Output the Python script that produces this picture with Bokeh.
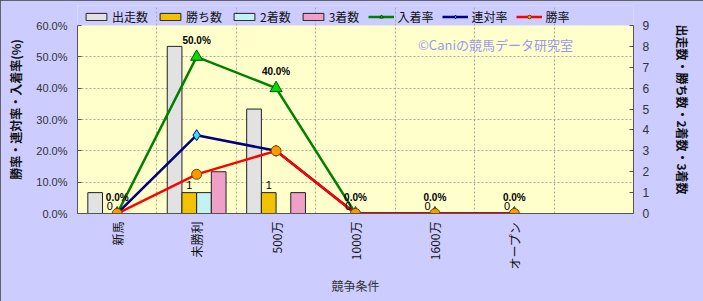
import math
from bokeh.plotting import figure
from bokeh.models import (ColumnDataSource, Range1d, LinearAxis, FixedTicker,
                          PrintfTickFormatter, Legend, LegendItem, Label)
from bokeh.transform import dodge
from bokeh.core.properties import value
from bokeh.embed import file_html
from bokeh.resources import INLINE

# ---- data ----
categories = ["新馬", "未勝利", "500万", "1000万", "1600万", "オープン"]
starts = [1, 8, 5, 0, 0, 0]          # 出走数
wins = [0, 1, 1, 0, 0, 0]            # 勝ち数
seconds = [0, 1, 0, 0, 0, 0]         # 2着数
thirds = [0, 2, 1, 0, 0, 0]          # 3着数
place_rate = [0.0, 50.0, 40.0, 0.0, 0.0, 0.0]   # 入着率
rentai_rate = [0.0, 25.0, 20.0, 0.0, 0.0, 0.0]  # 連対率
win_rate = [0.0, 12.5, 20.0, 0.0, 0.0, 0.0]     # 勝率
n_slots = 7
pct_max = 60
cnt_max = 9
pct_ticks = [0, 10, 20, 30, 40, 50, 60]
cnt_ticks = [0, 1, 2, 3, 4, 5, 6, 7, 8, 9]

JP = "Noto Sans CJK JP"
LAT = "Liberation Sans"

# layout geometry: frame spans y 5..213 px, plot area (0..60%) spans 25..213 px
FRAME_TOP, AREA_TOP, AREA_BOTTOM = 5, 25, 213
stretch = (AREA_BOTTOM - FRAME_TOP) / (AREA_BOTTOM - AREA_TOP)

xs = [i + 0.5 for i in range(len(categories))]
src = ColumnDataSource(dict(
    x=xs, starts=starts, wins=wins, seconds=seconds, thirds=thirds,
    place=place_rate, rentai=rentai_rate, win=win_rate,
    place_lbl=[f"{v:.1f}%" for v in place_rate],
    win_lbl=[str(v) for v in wins],
))

p = figure(width=703, height=301, x_range=Range1d(0, n_slots),
           y_range=Range1d(0, pct_max * stretch),
           output_backend="svg", toolbar_location=None,
           min_border_left=77, min_border_right=70, min_border_top=FRAME_TOP,
           min_border_bottom=301 - AREA_BOTTOM,
           background_fill_color="#ccccff", border_fill_color="#ccccff",
           outline_line_color=None)
p.styles = {"outline": "1px solid #404040", "outline-offset": "-1px"}
p.extra_y_ranges = {"cnt": Range1d(0, cnt_max * stretch)}

# yellow plot area
p.quad(left=0, right=n_slots, bottom=0, top=pct_max, fill_color="#ffffcc",
       line_color=None, level="image")

# grids
p.xgrid.ticker = FixedTicker(ticks=list(range(1, n_slots)))
p.ygrid.ticker = FixedTicker(ticks=pct_ticks[1:-1])
p.xgrid.bounds = (0, pct_max)
for g in (p.xgrid, p.ygrid):
    g.grid_line_color = "#a8a8a0"
    g.grid_line_dash = "2 2"
    g.grid_line_width = 1

# bars
bw = 0.185
bar_specs = [("starts", -0.2775, "#e2e2e2"), ("wins", -0.0925, "#f2c200"),
             ("seconds", 0.0925, "#c4f2f2"), ("thirds", 0.2775, "#f0a0c8")]
bars = []
for field, off, color in bar_specs:
    r = p.vbar(x=dodge("x", off, range=p.x_range), top=field, width=bw, source=src,
               y_range_name="cnt", fill_color=color, line_color="#222222", line_width=1)
    bars.append(r)

# lines
gl = p.line("x", "place", source=src, line_color="#008000", line_width=2.5)
gm = p.scatter("x", "place", source=src, marker="triangle", size=12,
               fill_color="#00dd00", line_color="#005000")
bl = p.line("x", "rentai", source=src, line_color="#000080", line_width=2.5)
bm = p.scatter("x", "rentai", source=src, marker="diamond", size=11,
               fill_color="#33e0f0", line_color="#000080")
rl = p.line("x", "win", source=src, line_color="#ff0000", line_width=2.5)
rm = p.scatter("x", "win", source=src, marker="circle", size=10,
               fill_color="#ff9900", line_color="#704000")

# data labels
p.text(x="x", y="place", text="place_lbl", source=src, text_align="center",
       text_baseline="bottom", y_offset=-11, text_font=value(LAT),
       text_font_size="10px", text_font_style="bold", text_color="black")
p.text(x=dodge("x", -0.0925, range=p.x_range), y="wins", text="win_lbl", source=src,
       y_range_name="cnt", text_align="center", text_baseline="bottom", y_offset=-4,
       text_font=value(LAT), text_font_size="11px", text_color="black")

# axes
ya = p.yaxis[0]
ya.bounds = (0, pct_max)
ya.ticker = FixedTicker(ticks=pct_ticks)
ya.formatter = PrintfTickFormatter(format="%.1f%%")
ya.axis_label = "勝率・連対率・入着率(%)"
ya.axis_label_text_font = JP
ya.axis_label_text_font_size = "12px"
ya.axis_label_text_font_style = "bold"
ya.axis_label_text_color = "#111111"
ya.axis_label_standoff = 9
ya.major_label_text_font = LAT
ya.major_label_text_font_size = "11px"
ya.major_label_text_color = "#333333"
ya.major_label_standoff = 10
ya.major_tick_in = 4
ya.major_tick_out = 0
ya.minor_tick_line_color = None
ya.axis_line_color = "#555555"
ya.major_tick_line_color = "#555555"

ra = LinearAxis(y_range_name="cnt", ticker=FixedTicker(ticks=cnt_ticks), bounds=(0, cnt_max))
ra.major_label_text_font = LAT
ra.major_label_text_font_size = "12px"
ra.major_label_text_color = "#333333"
ra.major_label_standoff = 9
ra.major_tick_in = 4
ra.major_tick_out = 0
ra.minor_tick_line_color = None
ra.axis_line_color = "#555555"
ra.major_tick_line_color = "#555555"
ra.axis_label = "出走数・勝ち数・2着数・3着数"
ra.axis_label_text_font = JP
ra.axis_label_text_font_size = "12px"
ra.axis_label_text_font_style = "bold"
ra.axis_label_text_color = "#111111"
ra.axis_label_standoff = 22
p.add_layout(ra, "right")

xa = p.xaxis[0]
xa.ticker = FixedTicker(ticks=xs)
xa.major_label_overrides = {x: c for x, c in zip(xs, categories)}
xa.major_label_orientation = math.pi / 2
xa.major_label_text_font = JP
xa.major_label_text_font_size = "12px"
xa.major_label_text_color = "#111111"
xa.major_label_standoff = 8
xa.major_tick_in = 0
xa.major_tick_out = 0
xa.minor_tick_line_color = None
xa.axis_line_color = "#555555"
xa.axis_label = "競争条件"
xa.axis_label_text_font = JP
xa.axis_label_text_font_size = "12px"
xa.axis_label_text_font_style = "normal"
xa.axis_label_text_color = "#333333"
xa.axis_label_standoff = 4

# watermark
p.add_layout(Label(x=418, y=169, x_units="screen", y_units="screen",
                   text="©Caniの競馬データ研究室", text_align="center",
                   text_baseline="middle", text_font=JP, text_font_size="13px",
                   text_color="#9999f0"))

# legend (inside the frame, above the yellow plot area)
legend = Legend(items=[
    LegendItem(label="出走数", renderers=[bars[0]]),
    LegendItem(label="勝ち数", renderers=[bars[1]]),
    LegendItem(label="2着数", renderers=[bars[2]]),
    LegendItem(label="3着数", renderers=[bars[3]]),
    LegendItem(label="入着率", renderers=[gl, gm]),
    LegendItem(label="連対率", renderers=[bl, bm]),
    LegendItem(label="勝率", renderers=[rl, rm]),
], location=(6, AREA_BOTTOM - 25), orientation="horizontal")
legend.background_fill_alpha = 0
legend.border_line_alpha = 0
legend.padding = 0
legend.margin = 0
legend.spacing = 9
legend.glyph_width = 26
legend.glyph_height = 9
legend.label_standoff = 3
legend.label_height = 12
legend.label_text_font = JP
legend.label_text_font_size = "12px"
legend.label_text_color = "#111111"
p.add_layout(legend, "center")

open("out.html", "w").write(file_html(p, INLINE))
